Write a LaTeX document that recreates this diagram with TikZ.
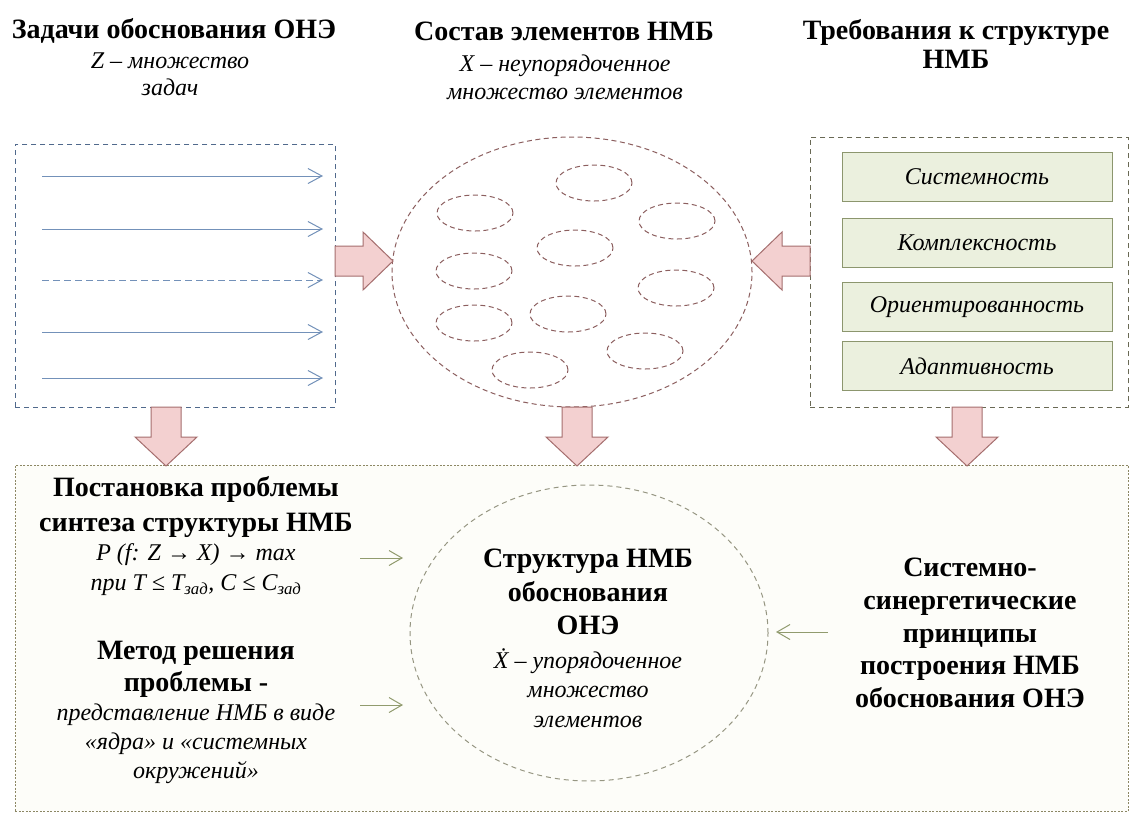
\documentclass[tikz,border=0pt]{standalone}
\usepackage{fontspec}
\setmainfont{Liberation Serif}
\usetikzlibrary{arrows.meta}
\definecolor{bluedash}{RGB}{80,105,140}
\definecolor{taskarr}{RGB}{115,145,185}
\definecolor{reddash}{RGB}{140,95,95}
\definecolor{pinkfill}{RGB}{243,208,208}
\definecolor{pinkdraw}{RGB}{165,110,110}
\definecolor{rightdash}{RGB}{105,105,85}
\definecolor{greenfill}{RGB}{235,240,222}
\definecolor{greendraw}{RGB}{140,150,110}
\definecolor{bottomdash}{RGB}{140,135,100}
\definecolor{bottomfill}{RGB}{253,253,249}
\definecolor{circledash}{RGB}{150,150,130}
\definecolor{olivearr}{RGB}{145,155,110}
\begin{document}
\begin{tikzpicture}[x=1pt,y=-1pt,
  headtext/.style={font=\fontsize{28}{29}\selectfont\bfseries, align=center, inner sep=0pt},
  bighead/.style={font=\fontsize{28}{33.5}\selectfont\bfseries, align=center, inner sep=0pt},
  italtext/.style={font=\fontsize{24}{27}\selectfont\itshape, align=center, inner sep=0pt},
  setbox/.style={draw=bluedash, dashed, line width=0.9pt, dash pattern=on 5pt off 4pt},
  taskarrow/.style={draw=taskarr, line width=1pt, -{Straight Barb[length=14pt,width=15pt,line width=1pt]}},
  elemset/.style={draw=reddash, line width=1pt, dash pattern=on 5pt off 3.5pt},
  blockarrow/.style={fill=pinkfill, draw=pinkdraw, line width=1pt, line join=miter},
  reqbox/.style={draw=rightdash, line width=0.8pt, dash pattern=on 5pt off 4pt},
  greenbox/.style={draw=greendraw, fill=greenfill, line width=1pt, minimum width=270pt, minimum height=49pt,
     font=\fontsize{24}{26}\selectfont\itshape, inner sep=0pt},
  basebox/.style={draw=bottomdash, fill=bottomfill, line width=0.7pt, dash pattern=on 2pt off 1.5pt},
  core/.style={draw=circledash, line width=1pt, dash pattern=on 5pt off 4pt},
  olivearrow/.style={draw=olivearr, line width=1pt, -{Straight Barb[length=13pt,width=15pt,line width=1pt]}},
  downarrow/.pic={\path[blockarrow] (-15,0) -- (15,0) -- (15,30) -- (31,30) -- (0,59) -- (-31,30) -- (-15,30) -- cycle;}
]
\useasboundingbox[fill=white] (0,0) rectangle (1131,812);

% bottom big box
\node[basebox, anchor=north west, minimum width=1113pt, minimum height=346pt, inner sep=0pt] (base) at (15,465) {};

% top left: tasks
\node[headtext] (tasksT) at (174,31) {Задачи обоснования ОНЭ};
\node[italtext] (tasksS) at (170,74) {Z – множество\\задач};
\node[setbox, anchor=north west, minimum width=320pt, minimum height=263pt, inner sep=0pt] (tasks) at (15,144) {};
\coordinate (a1s) at (42,176);  \coordinate (a1e) at (323,176);
\coordinate (a2s) at (42,229);  \coordinate (a2e) at (323,229);
\coordinate (a3s) at (42,280);  \coordinate (a3e) at (323,280);
\coordinate (a4s) at (42,332);  \coordinate (a4e) at (323,332);
\coordinate (a5s) at (42,378);  \coordinate (a5e) at (323,378);
\draw[taskarrow] (a1s) -- (a1e);
\draw[taskarrow] (a2s) -- (a2e);
\draw[taskarrow, dash pattern=on 7pt off 4pt] (a3s) -- (a3e);
\draw[taskarrow] (a4s) -- (a4e);
\draw[taskarrow] (a5s) -- (a5e);

% top middle: elements
\node[headtext] (elemT) at (564,31) {Состав элементов НМБ};
\node[italtext, font=\fontsize{24}{28}\selectfont\itshape] (elemS) at (565,77) {X – неупорядоченное\\множество элементов};
\draw[elemset] (572,272) ellipse [x radius=180pt, y radius=135pt];
\coordinate (elem) at (572,272);
\foreach \cx/\cy in {594/183, 475/213, 677/221, 575/248, 474/271, 676/288, 474/323, 568/314, 645/351, 530/370}
  \draw[elemset] (\cx,\cy) ellipse [x radius=38pt, y radius=18pt];

% top right: requirements
\node[headtext] (reqT) at (956,44) {Требования к структуре\\НМБ};
\node[reqbox, anchor=north west, minimum width=318pt, minimum height=270pt, inner sep=0pt] (req) at (810,137) {};
\node[greenbox] (r1) at (977,177) {Системность};
\node[greenbox] (r2) at (977,242.5) {Комплексность};
\node[greenbox] (r3) at (977,307) {Ориентированность};
\node[greenbox] (r4) at (977,366) {Адаптивность};

% block arrows
\path[blockarrow] (335,246) -- (363,246) -- (363,232) -- (393,261) -- (363,290) -- (363,276) -- (335,276) -- cycle;
\path[blockarrow] (810,246) -- (782,246) -- (782,232) -- (752,261) -- (782,290) -- (782,276) -- (810,276) -- cycle;
\pic at (166,407) {downarrow};
\pic at (577,407) {downarrow};
\pic at (967,407) {downarrow};

% bottom texts
\node[bighead, font=\fontsize{28}{35}\selectfont\bfseries] (probT) at (196,507) {Постановка проблемы\\синтеза структуры НМБ};
\node[italtext, font=\fontsize{24}{30}\selectfont\itshape] (probF) at (196,570) {P (f: Z → X) → max\\при T ≤ T\textsubscript{зад}, C ≤ C\textsubscript{зад}};
\node[bighead, font=\fontsize{28}{32}\selectfont\bfseries] (methT) at (196,669) {Метод решения\\проблемы -};
\node[italtext, font=\fontsize{24}{29}\selectfont\itshape] (methS) at (196,744) {представление НМБ в виде\\«ядра» и «системных\\окружений»};

\draw[core] (589,633) ellipse [x radius=179pt, y radius=148pt];
\coordinate (coreW1) at (403,558);
\coordinate (coreW2) at (403,705);
\coordinate (coreE) at (776,632);
\node[bighead, font=\fontsize{28}{33.5}\selectfont\bfseries] (coreT) at (588,592) {Структура НМБ\\обоснования\\ОНЭ};
\node[italtext, font=\fontsize{24}{29.5}\selectfont\itshape] (coreS) at (588,688) {Ẋ – упорядоченное\\множество\\элементов};

\node[bighead, font=\fontsize{28}{32.8}\selectfont\bfseries] (princ) at (970,633) {Системно-\\синергетические\\принципы\\построения НМБ\\обоснования ОНЭ};

\coordinate (p1) at (360,558);
\coordinate (p2) at (360,705);
\coordinate (p3) at (828,632);
\draw[olivearrow] (p1) -- (coreW1);
\draw[olivearrow] (p2) -- (coreW2);
\draw[olivearrow] (p3) -- (coreE);
\end{tikzpicture}
\end{document}
